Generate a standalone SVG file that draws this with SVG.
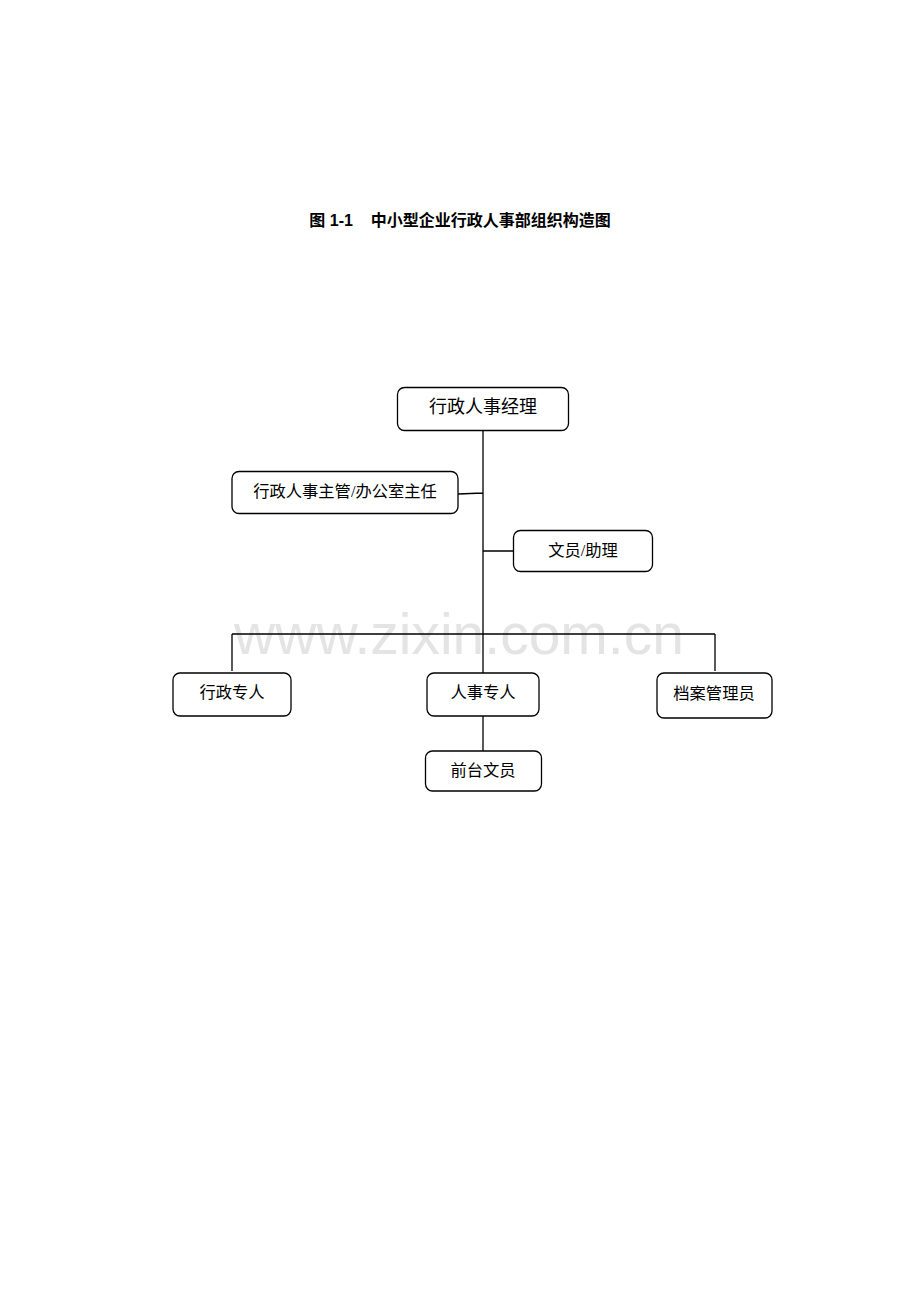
<svg xmlns="http://www.w3.org/2000/svg" width="920" height="1302" viewBox="0 0 920 1302">
<style>
.box{fill:#fff;stroke:#000;stroke-width:1.3}
.t{font-family:"Liberation Serif","Noto Sans CJK SC",serif;fill:#000;text-anchor:middle;dominant-baseline:central;font-size:16.3px}
.ln{stroke:#000;stroke-width:1.3;fill:none}
</style>
<rect width="920" height="1302" fill="#fff"/>
<text x="460" y="220" font-family="Liberation Sans,'Noto Sans CJK SC',sans-serif" font-size="16" font-weight="bold" text-anchor="middle" dominant-baseline="central" xml:space="preserve">图 1-1    中小型企业行政人事部组织构造图</text>
<text x="459" y="654" font-family="Liberation Sans,Arial,sans-serif" font-size="57" fill="#e4e4e4" text-anchor="middle">www.zixin.com.cn</text>
<g id="connectors">
<path class="ln" d="M483 430V673M458 494L483 493M483 551H513M232 634H715M232 634V671M715 634V671M483 716V751"/>
</g>
<g id="n1"><rect class="box" x="397.5" y="387.5" width="171" height="43" rx="7"/><text class="t" x="483" y="407" style="font-size:18px">行政人事经理</text></g>
<g id="n2"><rect class="box" x="232" y="471.5" width="226" height="42" rx="7"/><text class="t" x="345" y="491">行政人事主管/办公室主任</text></g>
<g id="n3"><rect class="box" x="513.5" y="530.5" width="139" height="41" rx="7"/><text class="t" x="583" y="550">文员/助理</text></g>
<g id="n4"><rect class="box" x="173" y="673" width="118" height="43" rx="7"/><text class="t" x="232" y="692">行政专人</text></g>
<g id="n5"><rect class="box" x="427" y="673" width="112" height="43" rx="7"/><text class="t" x="483" y="692">人事专人</text></g>
<g id="n6"><rect class="box" x="657" y="673" width="115" height="45" rx="7"/><text class="t" x="714" y="693">档案管理员</text></g>
<g id="n7"><rect class="box" x="425.5" y="751" width="116" height="40" rx="7"/><text class="t" x="483" y="770">前台文员</text></g>
</svg>
